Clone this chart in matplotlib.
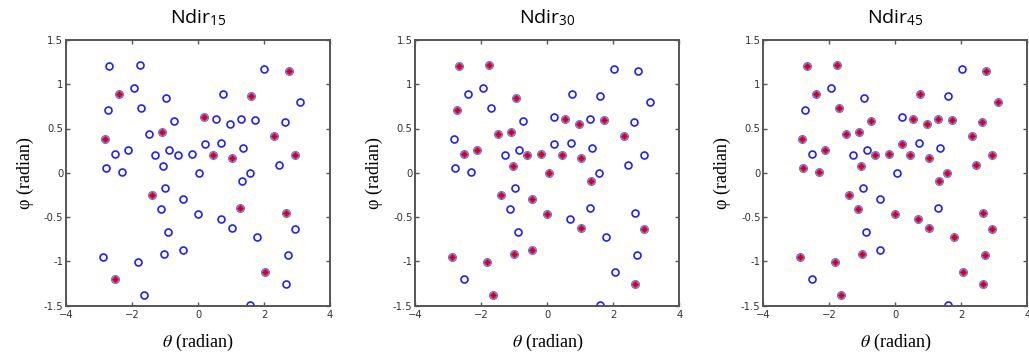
import matplotlib
matplotlib.use("Agg")
import matplotlib.pyplot as plt
import numpy as np

plt.rcParams['mathtext.fontset'] = 'stix'

# direction samples (theta, phi) in radians
theta = [-2.69, -1.77, 2.01, 2.76, -2.40, -1.94, -0.96, 0.76, 1.60, 3.10,
         -2.73, -1.72, 0.19, 0.54, 0.97, 1.29, 1.72, 2.64, -0.73, -1.09,
         -1.48, 2.31, -2.82, -2.12, -2.51, -1.29, -0.87, -0.62, -0.19, 0.20,
         0.71, 1.35, 0.45, 1.02, 2.93, -2.80, -2.31, -1.05, 0.04, 1.58,
         1.32, 2.44, -1.39, -0.99, -0.45, -1.13, -0.01, 1.28, 2.67, 0.69,
         1.03, 2.93, 1.78, -0.90, -0.45, -1.02, -2.89, -1.83, 2.73, 2.04,
         -2.51, 2.67, -1.64, 1.59]
phi = [1.205, 1.212, 1.168, 1.150, 0.888, 0.955, 0.840, 0.888, 0.862, 0.800,
       0.708, 0.735, 0.625, 0.612, 0.548, 0.612, 0.593, 0.575, 0.582, 0.455,
       0.440, 0.415, 0.378, 0.258, 0.210, 0.195, 0.258, 0.195, 0.208, 0.330,
       0.340, 0.285, 0.195, 0.172, 0.195, 0.050, 0.010, 0.075, 0.000, 0.000,
       -0.088, 0.085, -0.248, -0.170, -0.295, -0.415, -0.465, -0.393, -0.450, -0.525,
       -0.625, -0.640, -0.725, -0.675, -0.875, -0.915, -0.948, -1.010, -0.925, -1.120,
       -1.195, -1.255, -1.380, -1.490]

# indices of selected directions per panel
sel15 = [3, 4, 8, 12, 19, 21, 22, 32, 33, 34, 42, 47, 48, 59, 60]
sel30 = [0, 1, 6, 10, 13, 14, 16, 19, 20, 21, 23, 24, 27, 28, 32, 33, 37, 38,
         40, 42, 44, 46, 50, 51, 54, 55, 56, 57, 61, 62]
sel45 = [0, 1, 3, 4, 7, 9, 11, 13, 14, 15, 16, 17, 18, 19, 20, 21, 22, 23, 27,
         28, 29, 32, 33, 34, 35, 36, 37, 39, 40, 41, 42, 45, 46, 48, 49, 50, 51,
         52, 55, 56, 57, 58, 59, 61, 62]

titles = ["15", "30", "45"]
selections = [sel15, sel30, sel45]

fig = plt.figure(figsize=(10.29, 3.62), dpi=100)
lefts = [66 / 1029, 415.3 / 1029, 763.3 / 1029]
bottom = (362 - 305.5) / 362
height = (305.5 - 40) / 362
width = 264 / 1029

th = np.array(theta)
ph = np.array(phi)
frame_col = '#555555'
for i, (left, t, sel) in enumerate(zip(lefts, titles, selections)):
    ax = fig.add_axes([left, bottom, width, height])
    ax.plot(th, ph, linestyle='none', marker='o', markersize=5,
            markerfacecolor='white', markeredgecolor='#2020ff', markeredgewidth=1.2)
    s = np.array(sel)
    ax.plot(th[s], ph[s], linestyle='none', marker='o', markersize=5,
            markerfacecolor='#ff1010', markeredgecolor='#8080ff', markeredgewidth=1.0)
    ax.plot(th[s], ph[s], linestyle='none', marker='+', markersize=4,
            markeredgecolor='#d00000', markeredgewidth=1.0)
    ax.set_xlim(-4, 4)
    ax.set_ylim(-1.5, 1.5)
    ax.set_xticks([-4, -2, 0, 2, 4])
    ax.set_yticks([-1.5, -1, -0.5, 0, 0.5, 1, 1.5])
    ax.set_yticklabels(['-1.5', '-1', '-0.5', '0', '0.5', '1', '1.5'])
    ax.tick_params(direction='in', top=True, right=True, length=3, width=1,
                   color=frame_col, labelsize=7.2, labelcolor='#333333')
    ax.tick_params(axis='x', pad=3.5)
    ax.tick_params(axis='y', pad=2)
    for sp in ax.spines.values():
        sp.set_color(frame_col)
        sp.set_linewidth(1.4)
    ax.set_title("Ndir$_{\\mathregular{" + t + "}}$", fontsize=14,
                 family='Open Sans', pad=12)
    ax.set_xlabel(r"$\theta$ (radian)", fontsize=13, family='Liberation Serif',
                  labelpad=8)
    ax.set_ylabel("φ (radian)", fontsize=13, family='Liberation Serif', labelpad=7)

fig.savefig("out.png", dpi=100)
